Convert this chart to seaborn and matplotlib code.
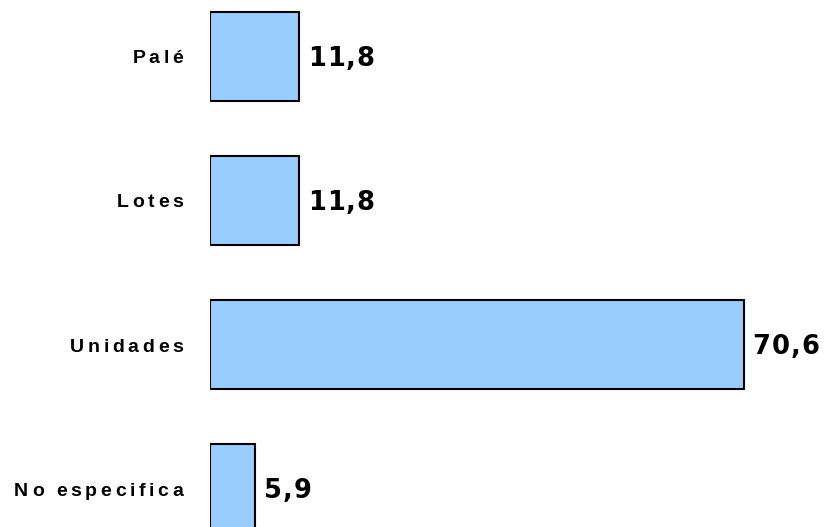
import matplotlib
matplotlib.use("Agg")
import matplotlib.pyplot as plt
import seaborn as sns
import pandas as pd
from matplotlib.font_manager import FontProperties
from matplotlib.transforms import offset_copy

# Datos del gráfico (porcentajes)
categorias = ["Palé", "Lotes", "Unidades", "No especifica"]
porcentajes = [11.8, 11.8, 70.6, 5.9]
etiquetas = ["11,8", "11,8", "70,6", "5,9"]

df = pd.DataFrame({"categoria": categorias, "pct": porcentajes})

sns.set_style("white")
DPI = 100
fig = plt.figure(figsize=(8.24, 5.27), dpi=DPI)
ax = fig.add_axes([210 / 824, 0, 614 / 824, 1])

sns.barplot(data=df, y="categoria", x="pct", orient="h", color="#99CCFF",
            saturation=1, edgecolor="black", linewidth=1.5, width=0.62, ax=ax)

ax.set_xlim(0, 614 / 7.56)
ax.set_ylim(3.267, -0.392)
ax.axis("off")

fig.canvas.draw()
rend = fig.canvas.get_renderer()

fp_cat = FontProperties(family="Liberation Sans", weight="bold", size=14)
fp_val = FontProperties(family="DejaVu Sans", weight="bold", size=18.5)


def ancho(s, fp):
    # ancho en pixeles, usando "x" para no perder los espacios finales
    w, _, _ = rend.get_text_width_height_descent(s + "x", fp, ismath=False)
    wx, _, _ = rend.get_text_width_height_descent("x", fp, ismath=False)
    return w - wx


def texto_espaciado(x, y, s, fp, sep, dx, dy, derecha=False):
    # matplotlib no tiene letter-spacing: se dibuja letra por letra
    total = ancho(s, fp) + sep * (len(s) - 1)
    inicio = dx - total if derecha else dx
    for k, ch in enumerate(s):
        off = inicio + ancho(s[:k], fp) + k * sep
        tr = offset_copy(ax.transData, fig=fig, x=off * 72 / DPI,
                         y=dy * 72 / DPI, units="points")
        ax.text(x, y, ch, transform=tr, fontproperties=fp, ha="left",
                va="baseline", clip_on=False, color="black")


for i, cat in enumerate(categorias):
    texto_espaciado(0, i, cat, fp_cat, 3.6, -27, -7, derecha=True)

for i, (v, lab) in enumerate(zip(porcentajes, etiquetas)):
    texto_espaciado(v, i, lab, fp_val, 1, 9, -9.5)

fig.savefig("out.png", dpi=DPI)
